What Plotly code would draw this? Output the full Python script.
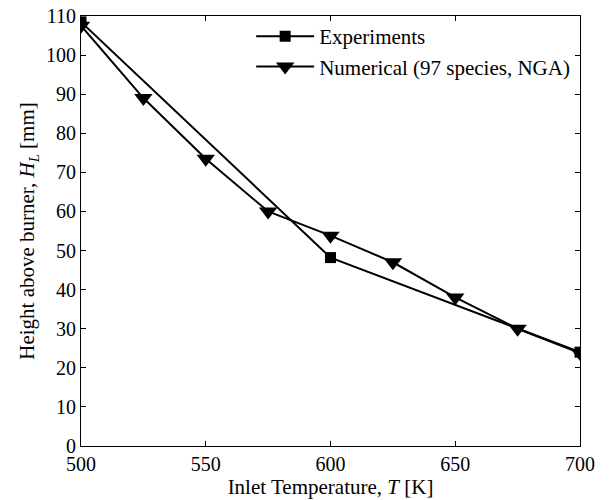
import plotly.graph_objects as go

exp_T = [500, 600, 700]
exp_H = [108.5, 48.2, 24]
num_T = [500, 525, 550, 575, 600, 625, 650, 675, 700]
num_H = [107.5, 89, 73.5, 60, 53.8, 47, 38, 30, 23.8]

x_ticks = [500, 550, 600, 650, 700]
y_ticks = [0, 10, 20, 30, 40, 50, 60, 70, 80, 90, 100, 110]

fig = go.Figure()
fig.add_trace(go.Scatter(x=exp_T, y=exp_H, mode="lines+markers", name="Experiments",
                         line=dict(color="black", width=2),
                         marker=dict(symbol="square", size=11, color="black")))
fig.add_trace(go.Scatter(x=num_T, y=num_H, mode="lines+markers", name="Numerical (97 species, NGA)",
                         line=dict(color="black", width=2),
                         marker=dict(symbol="triangle-down", size=16, color="black")))

tickfont = dict(family="Liberation Serif", size=20, color="black")
titlefont = dict(family="Liberation Serif", size=21, color="black")
legfont = dict(family="Liberation Serif", size=21, color="black")
axis_common = dict(showgrid=False, zeroline=False, showline=True, linecolor="black", linewidth=1,
                   mirror="ticks", ticks="inside", ticklen=5, tickcolor="black",
                   tickfont=tickfont, automargin=False, ticklabeloverflow="allow")
fig.update_xaxes(range=[500, 700], tickvals=x_ticks,
                 title=dict(text="Inlet Temperature, <i>T</i> [K]", font=titlefont, standoff=5),
                 **axis_common)
fig.update_yaxes(range=[0, 110], tickvals=y_ticks,
                 title=dict(text="Height above burner, <i>H</i><sub><i>L</i></sub> [mm]", font=titlefont, standoff=5),
                 **axis_common)
fig.update_layout(width=614, height=500, plot_bgcolor="white", paper_bgcolor="white",
                  margin=dict(l=73, r=42, t=8, b=62), font=tickfont,
                  legend=dict(x=0.341, y=1.0, xanchor="left", yanchor="top", bgcolor="rgba(255,255,255,0)",
                              font=legfont, tracegroupgap=0, itemwidth=58))
fig.write_html("out.html")
